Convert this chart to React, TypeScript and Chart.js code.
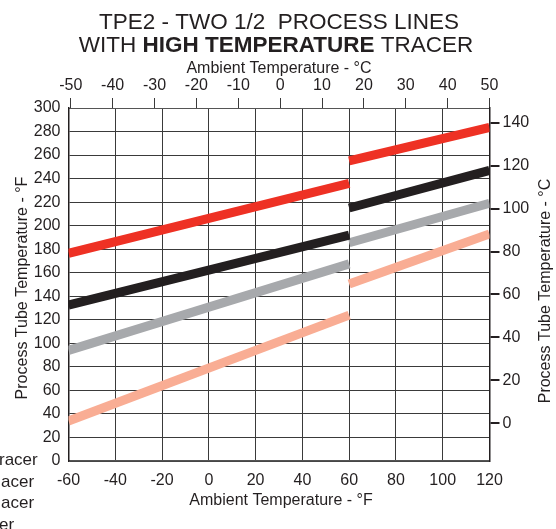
import React, { useEffect, useRef } from "react";
import { Chart, registerables } from "chart.js";

Chart.register(...registerables);

// ---- Data (°F) ----
const segAX = [-60, 60]; // first segment ambient °F
const segBX = [60, 120]; // second segment ambient °F

const redA = [176.5, 236];
const redB = [255, 283.5];
const blackA = [132.5, 192];
const blackB = [215, 247];
const grayA = [94, 167.5];
const grayB = [185.5, 219];
const salmonA = [34, 124];
const salmonB = [150.5, 193];

// ---- Tick labels ----
const bottomTicksF = [-60, -40, -20, 0, 20, 40, 60, 80, 100, 120];
const topTicksC = [-50, -40, -30, -20, -10, 0, 10, 20, 30, 40, 50];
const leftTicksF = [0, 20, 40, 60, 80, 100, 120, 140, 160, 180, 200, 220, 240, 260, 280, 300];
const rightTicksC = [0, 20, 40, 60, 80, 100, 120, 140];

const legendFragments = ["racer", "acer", "acer", "er"];

const FONT = '"Liberation Sans", Arial, Helvetica, sans-serif';
const INK = "#231f20";
const GRID = "#3a3a3a";

const seriesStyles = [
  { color: "#ee3124" },
  { color: "#231f20" },
  { color: "#a7a9ac" },
  { color: "#f9ad94" },
];

const textPlugin = {
  id: "customText",
  afterDraw(chart: any) {
    const ctx = chart.ctx as CanvasRenderingContext2D;
    ctx.save();
    ctx.fillStyle = INK;
    ctx.textBaseline = "alphabetic";
    // Title line 1
    ctx.font = `22.5px ${FONT}`;
    ctx.textAlign = "center";
    ctx.fillText("TPE2 - TWO 1/2  PROCESS LINES", 279, 29);
    // Title line 2 (mixed weight)
    const parts = [
      { t: "WITH ", b: false },
      { t: "HIGH TEMPERATURE", b: true },
      { t: " TRACER", b: false },
    ];
    let total = 0;
    for (const p of parts) {
      ctx.font = `${p.b ? "bold " : ""}22.5px ${FONT}`;
      total += ctx.measureText(p.t).width;
    }
    let x = 276 - total / 2;
    ctx.textAlign = "left";
    for (const p of parts) {
      ctx.font = `${p.b ? "bold " : ""}22.5px ${FONT}`;
      ctx.fillText(p.t, x, 52);
      x += ctx.measureText(p.t).width;
    }
    // Axis titles
    ctx.font = `16px ${FONT}`;
    ctx.textAlign = "center";
    ctx.fillText("Ambient Temperature - °C", 279, 73);
    ctx.fillText("Ambient Temperature - °F", 281, 505);
    // Left rotated title
    ctx.save();
    ctx.translate(27, 288);
    ctx.rotate(-Math.PI / 2);
    ctx.fillText("Process Tube Temperature - °F", 0, 0);
    ctx.restore();
    // Right rotated title
    ctx.save();
    ctx.translate(550, 291);
    ctx.rotate(-Math.PI / 2);
    ctx.fillText("Process Tube Temperature - °C", 0, 0);
    ctx.restore();
    // Cut-off legend fragments
    ctx.font = `17px ${FONT}`;
    ctx.textAlign = "left";
    const fx = [-1, 1, 1, -1];
    legendFragments.forEach((s, i) => {
      ctx.fillText(s, fx[i], 465 + i * 21.5);
    });
    ctx.restore();
  },
};

export default function App() {
  const ref = useRef<HTMLCanvasElement | null>(null);
  useEffect(() => {
    if (!ref.current) return;
    const mk = (xs: number[], ys: number[]) => xs.map((x, i) => ({ x, y: ys[i] }));
    const pairs: [number[], number[]][] = [
      [redA, redB],
      [blackA, blackB],
      [grayA, grayB],
      [salmonA, salmonB],
    ];
    const datasets: any[] = [];
    pairs.forEach(([a, b], i) => {
      [mk(segAX, a), mk(segBX, b)].forEach((d) => {
        datasets.push({
          data: d,
          borderColor: seriesStyles[i].color,
          backgroundColor: seriesStyles[i].color,
          borderWidth: 9,
          borderCapStyle: "butt",
          pointRadius: 0,
          fill: false,
          xAxisID: "x",
          yAxisID: "y",
        });
      });
    });
    const tickFont = { family: FONT, size: 16 };
    const chart = new Chart(ref.current, {
      type: "line",
      data: { datasets },
      plugins: [textPlugin],
      options: {
        animation: false,
        responsive: false,
        maintainAspectRatio: false,
        layout: { padding: 0 },
        plugins: { legend: { display: false }, tooltip: { enabled: false }, title: { display: false } },
        scales: {
          x: {
            type: "linear",
            position: "bottom",
            min: -60,
            max: 120,
            afterBuildTicks: (s: any) => {
              s.ticks = bottomTicksF.map((v) => ({ value: v }));
            },
            afterFit: (s: any) => {
              s.height = 68;
            },
            ticks: { font: tickFont, color: INK, padding: 10, autoSkip: false, maxRotation: 0 },
            grid: { color: GRID, lineWidth: 1, drawTicks: false },
            border: { color: "#555", width: 1.5 },
          },
          xTop: {
            type: "linear",
            position: "top",
            min: -50.55,
            max: 50,
            afterBuildTicks: (s: any) => {
              s.ticks = topTicksC.map((v) => ({ value: v }));
            },
            afterFit: (s: any) => {
              s.height = 108;
            },
            ticks: { font: tickFont, color: INK, padding: 3, autoSkip: false, maxRotation: 0 },
            grid: { drawOnChartArea: false, drawTicks: true, tickLength: 10, color: GRID, lineWidth: 1 },
            border: { color: "#555", width: 1 },
          },
          y: {
            type: "linear",
            position: "left",
            min: 0,
            max: 300,
            afterBuildTicks: (s: any) => {
              s.ticks = leftTicksF.map((v) => ({ value: v }));
            },
            afterFit: (s: any) => {
              s.width = 68.5;
            },
            ticks: { font: tickFont, color: INK, padding: 8, autoSkip: false },
            grid: { color: GRID, lineWidth: 1, drawTicks: false },
            border: { color: INK, width: 1.5 },
          },
          yRight: {
            type: "linear",
            position: "right",
            min: -17.56,
            max: 146.85,
            afterBuildTicks: (s: any) => {
              s.ticks = rightTicksC.map((v) => ({ value: v }));
            },
            afterFit: (s: any) => {
              s.width = 66.5;
            },
            ticks: { font: tickFont, color: INK, padding: 3, autoSkip: false },
            grid: { drawOnChartArea: false, drawTicks: true, tickLength: 10, color: INK, lineWidth: 2 },
            border: { color: INK, width: 1.5 },
          },
        },
      } as any,
    });
    return () => chart.destroy();
  }, []);
  return (
    <div style={{ position: "fixed", left: 0, top: 0, width: 556, height: 529, background: "#fff" }}>
      <canvas ref={ref} width={556} height={529} style={{ width: 556, height: 529, display: "block" }} />
    </div>
  );
}
